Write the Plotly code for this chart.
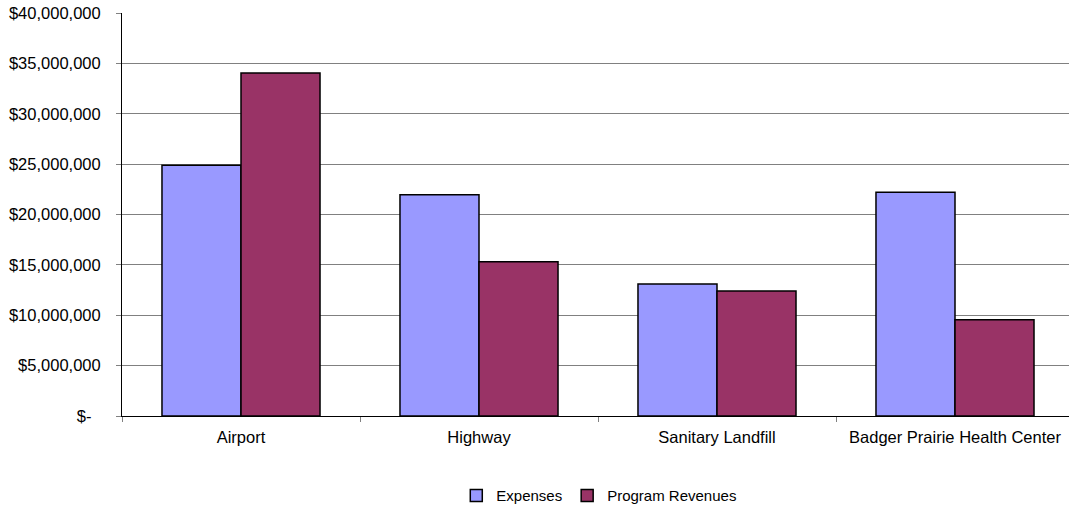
import plotly.graph_objects as go

categories = ["Airport", "Highway", "Sanitary Landfill", "Badger Prairie Health Center"]
expenses = [24900000, 21950000, 13100000, 22200000]
program_revenues = [34050000, 15300000, 12400000, 9550000]
y_tick_vals = [0, 5000000, 10000000, 15000000, 20000000, 25000000, 30000000, 35000000, 40000000]
y_tick_text = ["$-\u00a0\u00a0", "$5,000,000", "$10,000,000", "$15,000,000", "$20,000,000",
               "$25,000,000", "$30,000,000", "$35,000,000", "$40,000,000"]

FONT = "Liberation Sans, Arial, sans-serif"

fig = go.Figure()
fig.add_trace(go.Bar(name="Expenses", x=categories, y=expenses,
                     marker=dict(color="#9999FF", line=dict(color="black", width=1.5))))
fig.add_trace(go.Bar(name="Program Revenues", x=categories, y=program_revenues,
                     marker=dict(color="#993366", line=dict(color="black", width=1.5))))

fig.update_layout(
    width=1069, height=508,
    margin=dict(l=122, r=0, t=13, b=92, autoexpand=False),
    paper_bgcolor="white", plot_bgcolor="white",
    font=dict(family=FONT, size=16.5, color="black"),
    barmode="group", bargap=0.336, bargroupgap=0,
    showlegend=True,
    legend=dict(orientation="h", x=0.504, xanchor="center",
                yref="container", y=0.024, yanchor="middle",
                font=dict(size=15, family=FONT), itemwidth=30, tracegroupgap=0),
)
fig.update_xaxes(
    type="category", range=[-0.5, 3.479], automargin=False,
    showline=True, linecolor="black", linewidth=1,
    ticks="outside", tickson="boundaries", ticklen=5, tickcolor="#808080",
    ticklabelstandoff=6,
    showgrid=False, zeroline=False,
)
fig.update_yaxes(
    range=[0, 40000000], tickvals=y_tick_vals, ticktext=y_tick_text, automargin=False,
    showline=True, linecolor="black", linewidth=1,
    ticks="outside", ticklen=5, tickcolor="#808080", ticklabelstandoff=12,
    showgrid=True, gridcolor="#808080", gridwidth=1, zeroline=False,
)

fig.write_html(
    "out.html",
    config={"displayModeBar": False},
    post_script="document.documentElement.style.margin='0';document.body.style.margin='0';"
                "document.documentElement.style.overflow='hidden';document.body.style.overflow='hidden';",
)
